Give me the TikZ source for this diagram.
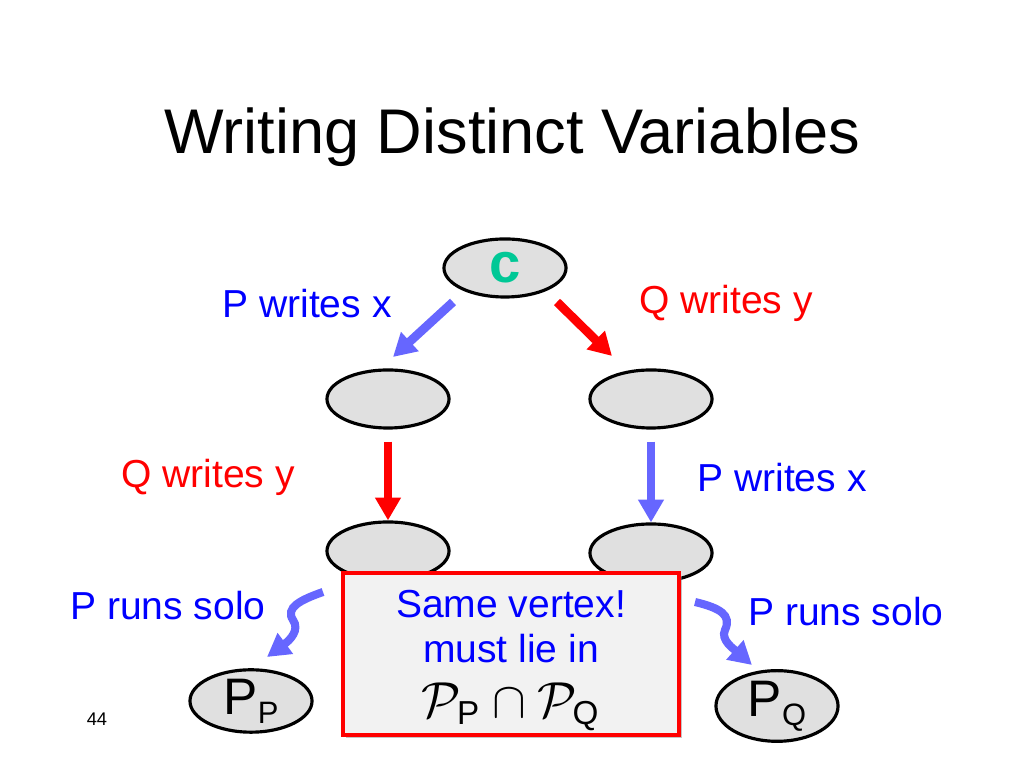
\documentclass[tikz,border=0pt]{standalone}
\usepackage{amsmath}
\usepackage{fontspec}
\setmainfont{Liberation Sans}
\usetikzlibrary{shapes.geometric,arrows.meta,shadows}
\definecolor{arrowblue}{RGB}{102,102,255}
\definecolor{textblue}{RGB}{0,0,255}
\definecolor{cgreen}{RGB}{0,200,150}
\definecolor{nodegray}{RGB}{224,224,224}
\definecolor{boxgray}{RGB}{242,242,242}
\tikzset{
  state/.style={ellipse,draw,line width=0.9pt,fill=nodegray,
    minimum width=1.22cm,minimum height=0.58cm,inner sep=0pt},
  lbl/.style={anchor=base,font=\fontsize{11.1}{13}\selectfont},
  bigarrow/.style={line width=2.5pt,-{Triangle[width=7pt,length=6.5pt]}},
  squig/.style={line width=2.3pt,arrowblue,-{Triangle[width=7pt,length=6.5pt]}},
  notebox/.style={draw=red,line width=1.1pt,fill=boxgray,
    minimum width=3.36cm,minimum height=1.62cm,
    drop shadow={shadow xshift=0.9pt,shadow yshift=-0.9pt,fill=black!45}}
}
\begin{document}
\begin{tikzpicture}[x=0.01cm,y=-0.01cm]
\path[use as bounding box,fill=white] (0,0) rectangle (1024,768);
\node (title) at (512,137) {\fontsize{17.95}{20}\selectfont Writing Distinct Variables};
% states
\node[state] (c) at (505,268) {\fontsize{16}{16}\selectfont\bfseries\color{cgreen}c};
\node[state] (ml) at (388,399) {};
\node[state] (mr) at (651,399) {};
\node[state] (bl) at (388,551) {};
\node[state] (br) at (651,553) {};
\node[state] (pp) at (251,701) {\fontsize{14.6}{15}\selectfont P\raisebox{-2.5pt}{\fontsize{8.8}{9}\selectfont P}};
\node[state] (pq) at (777,706) {\fontsize{14.6}{15}\selectfont P\raisebox{-2.5pt}{\fontsize{8.8}{9}\selectfont Q}};
% arrow ends
\coordinate (pxa) at (453,302);
\coordinate (pxb) at (393,357);
\coordinate (qya) at (557,302);
\coordinate (qyb) at (612,356);
\draw[bigarrow,arrowblue] (pxa) -- (pxb);
\draw[bigarrow,red] (qya) -- (qyb);
\draw[bigarrow,red,shorten <=0.12cm] (ml) -- (bl);
\draw[bigarrow,arrowblue,shorten <=0.12cm] (mr) -- (br);
% solo runs
\coordinate (sla) at (323,592);
\coordinate (slb) at (267,657);
\coordinate (sra) at (695,602);
\coordinate (srb) at (752,665);
\draw[squig] (sla) .. controls (300,600) and (285,608) .. (293,620)
  .. controls (300,630) and (290,640) .. (slb);
\draw[squig] (sra) .. controls (720,608) and (732,615) .. (725,630)
  .. controls (720,640) and (735,650) .. (srb);
% labels
\node[lbl,textblue] (l1) at (307,318) {P writes x};
\node[lbl,red] (l2) at (726,314) {Q writes y};
\node[lbl,red] (l3) at (208,488) {Q writes y};
\node[lbl,textblue] (l4) at (782,492) {P writes x};
\node[lbl,textblue] (l5) at (168,620) {P runs solo};
\node[lbl,textblue] (l6) at (846,626) {P runs solo};
\node (pg) at (97,719) {\fontsize{5.2}{6}\selectfont 44};
% note
\node[notebox] (note) at (511,654) {};
\node[lbl,inner sep=0pt,text=textblue] (notea) at (511,618) {Same vertex!};
\node[lbl,inner sep=0pt,text=textblue] (noteb) at (511,663) {must lie in};
\node[inner sep=0pt] (notec) at (511,707)
  {\fontsize{13.5}{15}\selectfont $\mathcal{P}_{\text{P}}\cap\mathcal{P}_{\text{Q}}$};
\end{tikzpicture}
\end{document}
